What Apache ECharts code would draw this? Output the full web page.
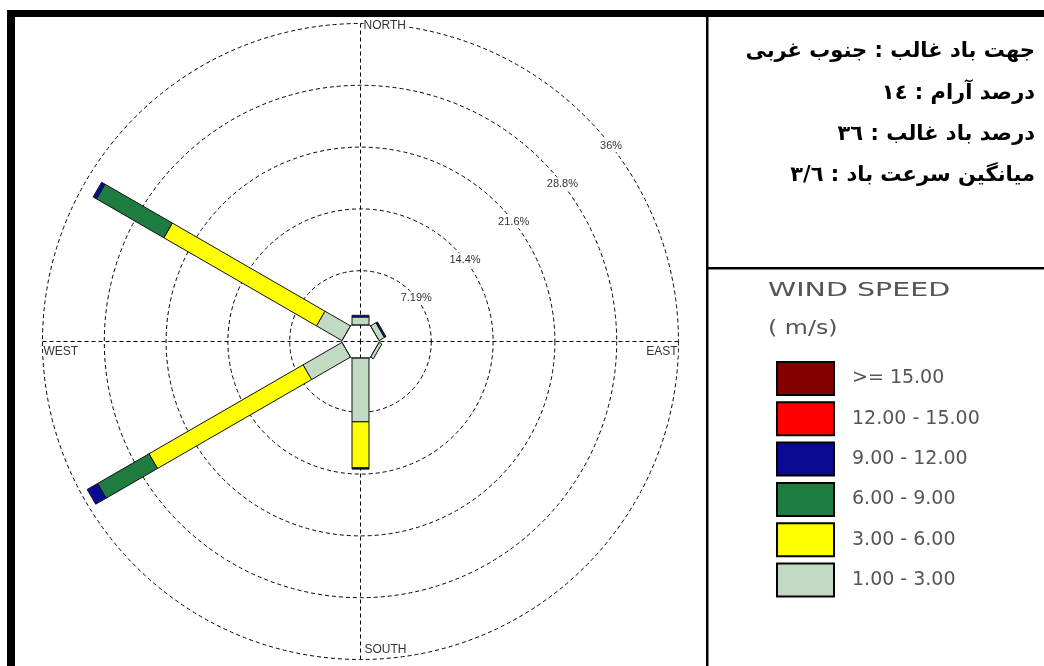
<!DOCTYPE html>
<html>
<head>
<meta charset="utf-8">
<script src="https://cdn.jsdelivr.net/npm/echarts@6/dist/echarts.min.js"></script>
<style>
  html, body { margin: 0; padding: 0; background: #fff; }
  #chart { width: 1044px; height: 666px; }
</style>
</head>
<body>
<div id="chart"></div>
<script>
// ---------------- data ----------------
const directions = [0, 60, 120, 180, 240, 300];           // compass degrees
const speedLabels = ['1.00 - 3.00', '3.00 - 6.00', '6.00 - 9.00', '9.00 - 12.00', '12.00 - 15.00', '>= 15.00'];
const freq1to3   = [1.8, 1.6, 1.25, 8.3, 6.1, 4.3];
const freq3to6   = [0, 0, 0, 5.35, 20.7, 20.5];
const freq6to9   = [0, 0, 0, 0, 6.9, 9.05];
const freq9to12  = [0.2, 0.2, 0, 0.15, 1.4, 0.45];
const freq12to15 = [0, 0, 0, 0, 0, 0];
const freq15up   = [0, 0, 0, 0, 0, 0];
const radiusStep = 7.19;
const radiusMax = 35.95;
const radiusTickLabels = ['', '7.19%', '14.4%', '21.6%', '28.8%', '36%'];
const compassLabels = ['NORTH', 'EAST', 'SOUTH', 'WEST'];
const infoLines = [
  'جهت باد غالب : جنوب غربی',
  'درصد آرام : ١٤',
  'درصد باد غالب : ٣٦',
  'میانگین سرعت باد : ٣/٦'
];
const legendTitle = 'WIND SPEED';
const legendUnit = '( m/s)';

// ---------------- style / layout ----------------
const speedColors = ['#C2DAC2', '#FFFF00', '#1F7C40', '#0A0A92', '#FF0000', '#820000'];
const speedFreqs = [freq1to3, freq3to6, freq6to9, freq9to12, freq12to15, freq15up];
const CX = 360.5, CY = 341.5, R_OUT = 318, R_IN = 9;
const CALM = 0.87;          // calm hexagon apothem, in axis units
const BAR_W = 17;
const LABEL_ANGLE = 38;
const DASH = { type: [4, 3], color: '#000', width: 1 };

const chart = echarts.init(document.getElementById('chart'));

function segmentRenderer(classIdx) {
  return function (params, api) {
    const i = params.dataIndex;
    const v = api.value(0);
    if (!(v > 0)) return null;
    let base = 0;
    for (let k = 0; k < classIdx; k++) base += speedFreqs[k][i];
    const r0 = Math.max(base, CALM);
    const r1 = base + v;
    const ang = api.value(1);
    const a = api.coord([r0, ang]);
    const b = api.coord([r1, ang]);
    const dx = b[0] - a[0], dy = b[1] - a[1];
    const len = Math.sqrt(dx * dx + dy * dy) || 1;
    const nx = -dy / len * BAR_W / 2, ny = dx / len * BAR_W / 2;
    return {
      type: 'polygon',
      shape: { points: [[a[0] + nx, a[1] + ny], [b[0] + nx, b[1] + ny], [b[0] - nx, b[1] - ny], [a[0] - nx, a[1] - ny]] },
      style: api.style({ stroke: '#111', lineWidth: 1 })
    };
  };
}

function hexRenderer(params, api) {
  const p0 = api.coord([0, 0]), p180 = api.coord([0, 180]);
  const c = [(p0[0] + p180[0]) / 2, (p0[1] + p180[1]) / 2];
  const k = 1 / Math.cos(Math.PI / 6);
  const pts = [];
  for (let j = 0; j < 6; j++) {
    const q = api.coord([api.value(0), 30 + 60 * j]);
    pts.push([c[0] + (q[0] - c[0]) * k, c[1] + (q[1] - c[1]) * k]);
  }
  return { type: 'polygon', shape: { points: pts }, style: { fill: 'none', stroke: '#222', lineWidth: 1 } };
}

const series = speedLabels.map((name, idx) => ({
  type: 'custom',
  name: name,
  coordinateSystem: 'polar',
  polarIndex: 0,
  clip: false,
  itemStyle: { color: speedColors[idx], borderColor: '#000', borderWidth: 1 },
  encode: { radius: 0, angle: 1 },
  data: directions.map((d, i) => [speedFreqs[idx][i], d]),
  renderItem: segmentRenderer(idx),
  z: 3
}));
series.push({
  type: 'custom',
  name: 'calm',
  coordinateSystem: 'polar',
  polarIndex: 0,
  silent: true,
  encode: { radius: 0, angle: 1 },
  data: [[CALM, 0]],
  renderItem: hexRenderer,
  z: 4
});

const axisOff = { axisLine: { show: false }, axisTick: { show: false }, axisLabel: { show: false }, splitLine: { show: false } };
const compassFont = '12px "Liberation Sans"';

const graphics = [
  // frame
  { type: 'rect', shape: { x: 7, y: 10, width: 1037, height: 7 }, style: { fill: '#000' } },
  { type: 'rect', shape: { x: 7, y: 10, width: 8, height: 656 }, style: { fill: '#000' } },
  { type: 'rect', shape: { x: 706, y: 10, width: 2.5, height: 656 }, style: { fill: '#000' } },
  { type: 'rect', shape: { x: 706, y: 267, width: 338, height: 2.5 }, style: { fill: '#000' } },
  // compass labels
  { type: 'text', x: CX + 3, y: CY - R_OUT + 2, style: { text: compassLabels[0], fill: '#333', font: compassFont, textAlign: 'left', textVerticalAlign: 'middle', backgroundColor: '#fff' }, z: 5 },
  { type: 'text', x: CX + R_OUT - 1, y: CY + 10, style: { text: compassLabels[1], fill: '#333', font: compassFont, textAlign: 'right', textVerticalAlign: 'middle', backgroundColor: '#fff' }, z: 5 },
  { type: 'text', x: CX + 4, y: CY + R_OUT - 10, style: { text: compassLabels[2], fill: '#333', font: compassFont, textAlign: 'left', textVerticalAlign: 'middle', backgroundColor: '#fff' }, z: 5 },
  { type: 'text', x: CX - R_OUT + 1, y: CY + 10, style: { text: compassLabels[3], fill: '#333', font: compassFont, textAlign: 'left', textVerticalAlign: 'middle', backgroundColor: '#fff' }, z: 5 },
  // legend heading
  { type: 'text', x: 768, y: 291, scaleX: 1.5, style: { text: legendTitle, fill: '#555', font: '19px "DejaVu Sans"', textAlign: 'left', textVerticalAlign: 'middle' } },
  { type: 'text', x: 768, y: 329, scaleX: 1.25, style: { text: legendUnit, fill: '#555', font: '19px "DejaVu Sans"', textAlign: 'left', textVerticalAlign: 'middle' } }
];
const infoY = [52, 94, 135, 176];
infoLines.forEach((t, i) => {
  graphics.push({ type: 'text', x: 1035, y: infoY[i], style: { text: t, fill: '#000', font: 'bold 21px "DejaVu Sans"', textAlign: 'right', textVerticalAlign: 'middle' } });
});

chart.setOption({
  backgroundColor: '#fff',
  animation: false,
  polar: [
    { center: [CX, CY], radius: [R_IN, R_OUT] },
    { center: [CX, CY], radius: [0, R_OUT] },
    { center: [CX, CY], radius: [R_IN, R_OUT] }
  ],
  angleAxis: [
    Object.assign({ polarIndex: 0, type: 'value', min: 0, max: 360, startAngle: 90, clockwise: true }, axisOff),
    Object.assign({ polarIndex: 1, type: 'value', min: 0, max: 360, interval: 90, startAngle: 90, clockwise: true }, axisOff, { splitLine: { show: true, lineStyle: DASH } }),
    { polarIndex: 2, type: 'value', min: 0, max: 360, startAngle: LABEL_ANGLE, show: false }
  ],
  radiusAxis: [
    Object.assign({ polarIndex: 0, type: 'value', min: 0, max: radiusMax, interval: radiusStep }, axisOff, {
      splitLine: { show: true, lineStyle: { type: [4, 3], width: 1, color: ['rgba(0,0,0,0)', '#000', '#000', '#000', '#000', '#000'] } }
    }),
    { polarIndex: 1, type: 'value', min: 0, max: 1, show: false },
    Object.assign({ polarIndex: 2, type: 'value', min: 0, max: radiusMax, interval: radiusStep }, axisOff, {
      axisLabel: {
        show: true, showMinLabel: false, margin: 0, align: 'center', verticalAlign: 'middle',
        formatter: (v, i) => radiusTickLabels[i] || '',
        fontSize: 11, fontFamily: 'Liberation Sans', color: '#333', backgroundColor: '#fff', padding: [1, 2]
      }
    })
  ],
  legend: {
    data: speedLabels.slice().reverse(),
    orient: 'vertical', left: 771, top: 356,
    itemWidth: 57, itemHeight: 33, itemGap: 5.3, icon: 'rect',
    selectedMode: false,
    itemStyle: { borderColor: '#000', borderWidth: 2 },
    textStyle: { fontFamily: 'DejaVu Sans', fontSize: 19, color: '#555', padding: [0, 0, 0, 13] }
  },
  graphic: graphics,
  series: series
});
</script>
</body>
</html>
